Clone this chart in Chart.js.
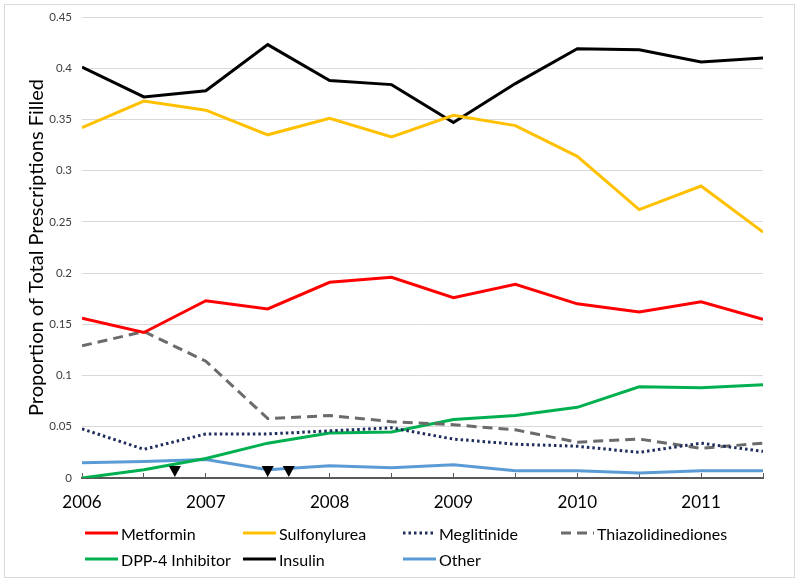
<!DOCTYPE html>
<html>
<head>
<meta charset="utf-8">
<script src="https://cdn.jsdelivr.net/npm/chart.js@4.4.1/dist/chart.umd.min.js"></script>
<style>
  body { margin: 0; background: #fff; }
  #wrap { position: relative; width: 800px; height: 583px; font-family: Lato, sans-serif; }
  #frame { position: absolute; left: 4px; top: 4px; width: 791px; height: 574px; border: 1px solid #d9d9d9; box-sizing: border-box; }
  #c { position: absolute; left: 0; top: 0; }
  .lg { position: absolute; display: flex; align-items: center; font-size: 16px; color: #000; white-space: nowrap; }
  .lg canvas { margin-right: 3px; }
</style>
</head>
<body>
<div id="wrap">
  <div id="frame"></div>
  <canvas id="c" width="800" height="583"></canvas>
  <div id="legend"></div>
</div>
<script>
// half-year points
const xValues = [2006, 2006.5, 2007, 2007.5, 2008, 2008.5, 2009, 2009.5, 2010, 2010.5, 2011, 2011.5];
const xTickLabels = ['2006', '2007', '2008', '2009', '2010', '2011'];
const yTickLabels = ['0', '0.05', '0.1', '0.15', '0.2', '0.25', '0.3', '0.35', '0.4', '0.45'];

const metformin = [0.156, 0.142, 0.173, 0.165, 0.191, 0.196, 0.176, 0.189, 0.170, 0.162, 0.172, 0.155];
const sulfonylurea = [0.342, 0.368, 0.359, 0.335, 0.351, 0.333, 0.354, 0.344, 0.314, 0.262, 0.285, 0.240];
const meglitinide = [0.048, 0.028, 0.043, 0.043, 0.046, 0.049, 0.038, 0.033, 0.031, 0.025, 0.034, 0.026];
const thiazolidinediones = [0.129, 0.143, 0.114, 0.058, 0.061, 0.055, 0.052, 0.047, 0.035, 0.038, 0.029, 0.034];
const dpp4 = [0.000, 0.008, 0.019, 0.034, 0.044, 0.045, 0.057, 0.061, 0.069, 0.089, 0.088, 0.091];
const insulin = [0.401, 0.372, 0.378, 0.423, 0.388, 0.384, 0.347, 0.385, 0.419, 0.418, 0.406, 0.410];
const other = [0.015, 0.016, 0.018, 0.008, 0.012, 0.010, 0.013, 0.007, 0.007, 0.005, 0.007, 0.007];

// triangle markers on the x axis
const eventMarks = [2006.75, 2007.5, 2007.67];

const FONT = 'Lato, sans-serif';

function pts(arr) { return arr.map((v, i) => ({ x: xValues[i], y: v })); }

function series(label, data, color, dash) {
  return {
    label: label,
    data: pts(data),
    borderColor: color,
    backgroundColor: color,
    borderWidth: 3,
    borderDash: dash || [],
    pointRadius: 0,
    tension: 0,
    fill: false
  };
}

const datasets = [
  series('Metformin', metformin, '#ff0000'),
  series('Sulfonylurea', sulfonylurea, '#ffc000'),
  series('Meglitinide', meglitinide, '#1f2d5c', [2.5, 3]),
  series('Thiazolidinediones', thiazolidinediones, '#6b6b6b', [10, 6]),
  series('DPP-4 Inhibitor', dpp4, '#00b050'),
  series('Insulin', insulin, '#000000'),
  series('Other', other, '#5b9bd5')
];

const markerPlugin = {
  id: 'markers',
  afterDatasetsDraw(chart) {
    const ctx = chart.ctx;
    const xs = chart.scales.x, ys = chart.scales.y;
    const base = ys.getPixelForValue(0) - 1;
    ctx.save();
    ctx.fillStyle = '#000';
    eventMarks.forEach(v => {
      const px = xs.getPixelForValue(v);
      ctx.beginPath();
      ctx.moveTo(px - 6, base - 11);
      ctx.lineTo(px + 6, base - 11);
      ctx.lineTo(px, base);
      ctx.closePath();
      ctx.fill();
    });
    ctx.restore();
  }
};

new Chart(document.getElementById('c'), {
  type: 'line',
  data: { datasets: datasets },
  plugins: [markerPlugin],
  options: {
    responsive: false,
    animation: false,
    layout: { padding: { left: 0, right: 37, top: 17, bottom: 70 } },
    plugins: { legend: { display: false }, tooltip: { enabled: false } },
    scales: {
      x: {
        type: 'linear',
        min: 2006,
        max: 2011.5,
        ticks: {
          stepSize: 0.5,
          autoSkip: false,
          maxRotation: 0,
          padding: 19,
          color: '#000',
          font: { family: FONT, size: 17 },
          callback: v => Number.isInteger(v) ? xTickLabels[v - 2006] : ''
        },
        grid: { drawOnChartArea: false, tickLength: -5, tickColor: '#595959', tickWidth: 1 },
        border: { color: '#595959', width: 2 },
        afterFit: s => { s.height = 35; }
      },
      y: {
        min: 0,
        max: 0.45,
        ticks: {
          stepSize: 0.05,
          padding: 10,
          color: '#404040',
          font: { family: FONT, size: 11.5 },
          callback: v => yTickLabels[Math.round(v / 0.05)]
        },
        grid: { color: '#d9d9d9', drawTicks: false },
        border: { display: false },
        title: {
          display: true,
          text: 'Proportion of Total Prescriptions Filled',
          color: '#000',
          font: { family: FONT, size: 20 },
          padding: { top: 25, bottom: 0 }
        },
        afterFit: s => { s.width = 82; }
      }
    }
  }
});

// legend laid out in columns like the original
const legendCols = [85, 243, 403, 561];
const legendRows = [533, 559];
const legend = document.getElementById('legend');
datasets.forEach((ds, i) => {
  const row = i < 4 ? 0 : 1;
  const col = i < 4 ? i : i - 4;
  const item = document.createElement('div');
  item.className = 'lg';
  item.style.left = legendCols[col] + 'px';
  item.style.top = (legendRows[row] - 10) + 'px';
  item.style.height = '20px';
  const sw = document.createElement('canvas');
  sw.width = 33; sw.height = 6;
  const g = sw.getContext('2d');
  g.strokeStyle = ds.borderColor;
  g.lineWidth = 3;
  g.setLineDash(ds.borderDash);
  g.beginPath(); g.moveTo(0, 3); g.lineTo(33, 3); g.stroke();
  item.appendChild(sw);
  const t = document.createElement('span');
  t.textContent = ds.label;
  item.appendChild(t);
  legend.appendChild(item);
});
</script>
</body>
</html>
